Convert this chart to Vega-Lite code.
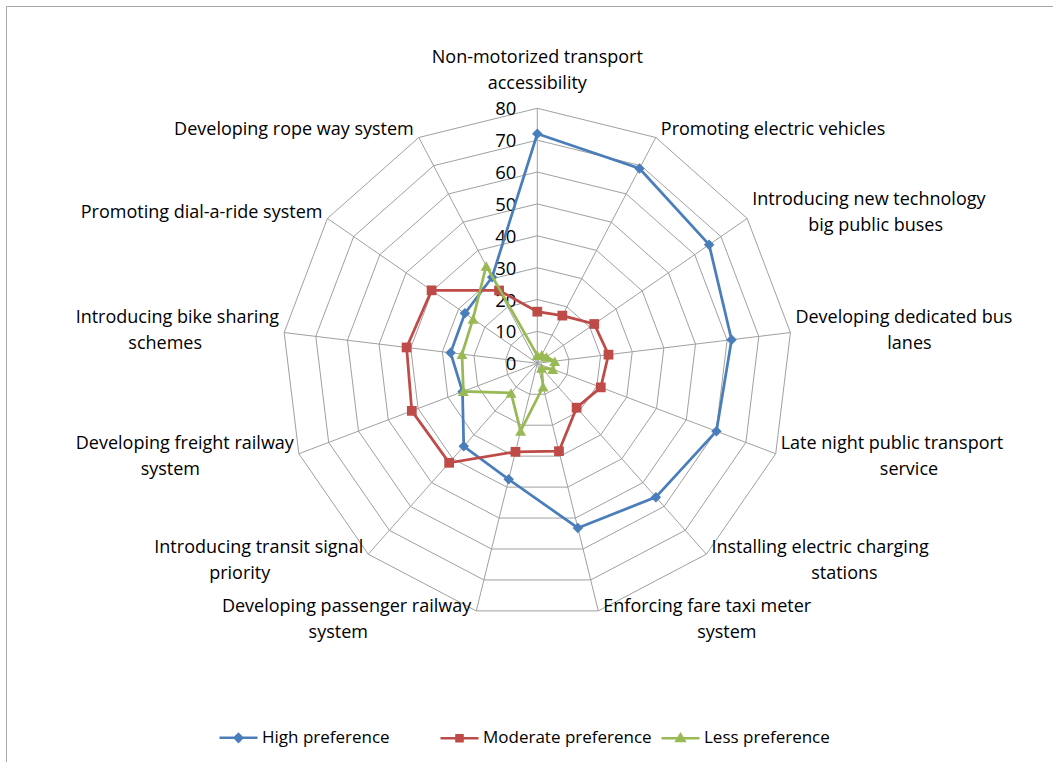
{
  "$schema": "https://vega.github.io/schema/vega-lite/v6.json",
  "width": 1047,
  "height": 756,
  "autosize": "none",
  "padding": {"left": 6, "top": 6, "right": 0, "bottom": 0},
  "config": {
    "view": {"stroke": "#A6A6A6", "strokeWidth": 1},
    "font": "Open Sans",
    "text": {"font": "Open Sans", "fontSize": 18, "color": "#000000"}
  },
  "datasets": {
    "cats": [
      {"idx": 0, "l1": "Non-motorized transport", "l2": "accessibility", "High preference": 72, "Moderate preference": 16.2, "Less preference": 2.5},
      {"idx": 1, "l1": "Promoting electric vehicles", "l2": null, "High preference": 69, "Moderate preference": 16.9, "Less preference": 3},
      {"idx": 2, "l1": "Introducing new technology", "l2": "big public buses", "High preference": 65.5, "Moderate preference": 21.7, "Less preference": 3.5},
      {"idx": 3, "l1": "Developing dedicated bus", "l2": "lanes", "High preference": 61.4, "Moderate preference": 22.5, "Less preference": 5.5},
      {"idx": 4, "l1": "Late night public transport", "l2": "service", "High preference": 60.1, "Moderate preference": 21.3, "Less preference": 5.2},
      {"idx": 5, "l1": "Installing electric charging", "l2": "stations", "High preference": 56.1, "Moderate preference": 18.6, "Less preference": 2},
      {"idx": 6, "l1": "Enforcing  fare taxi meter", "l2": "system", "High preference": 53.2, "Moderate preference": 28.4, "Less preference": 7.6},
      {"idx": 7, "l1": "Developing passenger railway", "l2": "system", "High preference": 37.5, "Moderate preference": 28.6, "Less preference": 21.9},
      {"idx": 8, "l1": "Introducing transit signal", "l2": "priority", "High preference": 34.8, "Moderate preference": 41.7, "Less preference": 12.4},
      {"idx": 9, "l1": "Developing freight railway", "l2": "system", "High preference": 25.1, "Moderate preference": 42.1, "Less preference": 24.8},
      {"idx": 10, "l1": "Introducing bike sharing", "l2": "schemes", "High preference": 27.4, "Moderate preference": 41.3, "Less preference": 23.8},
      {"idx": 11, "l1": "Promoting dial-a-ride system", "l2": null, "High preference": 27.6, "Moderate preference": 40.3, "Less preference": 24.5},
      {"idx": 12, "l1": "Developing rope way system", "l2": null, "High preference": 30.5, "Moderate preference": 25.8, "Less preference": 34.5}
    ],
    "rings": [
      {"level": 10, "idx": [0,1,2,3,4,5,6,7,8,9,10,11,12]},
      {"level": 20, "idx": [0,1,2,3,4,5,6,7,8,9,10,11,12]},
      {"level": 30, "idx": [0,1,2,3,4,5,6,7,8,9,10,11,12]},
      {"level": 40, "idx": [0,1,2,3,4,5,6,7,8,9,10,11,12]},
      {"level": 50, "idx": [0,1,2,3,4,5,6,7,8,9,10,11,12]},
      {"level": 60, "idx": [0,1,2,3,4,5,6,7,8,9,10,11,12]},
      {"level": 70, "idx": [0,1,2,3,4,5,6,7,8,9,10,11,12]},
      {"level": 80, "idx": [0,1,2,3,4,5,6,7,8,9,10,11,12]}
    ],
    "ticks": [{"t": 0}, {"t": 10}, {"t": 20}, {"t": 30}, {"t": 40}, {"t": 50}, {"t": 60}, {"t": 70}, {"t": 80}]
  },
  "layer": [
    {
      "data": {"name": "rings"},
      "transform": [
        {"flatten": ["idx"]},
        {"calculate": "datum.idx*2*PI/13", "as": "a"},
        {"calculate": "datum.level*sin(datum.a)", "as": "x"},
        {"calculate": "datum.level*cos(datum.a)", "as": "y"}
      ],
      "mark": {"type": "line", "interpolate": "linear-closed", "color": "#A0A0A0", "strokeWidth": 1},
      "encoding": {
        "x": {"field": "x", "type": "quantitative", "scale": {"domain": [-166.68, 161.79], "nice": false, "zero": false}, "axis": null},
        "y": {"field": "y", "type": "quantitative", "scale": {"domain": [-125.08, 112.09], "nice": false, "zero": false}, "axis": null},
        "detail": {"field": "level", "type": "nominal"},
        "order": {"field": "idx", "type": "quantitative"}
      }
    },
    {
      "data": {"name": "cats"},
      "transform": [
        {"calculate": "datum.idx*2*PI/13", "as": "a"},
        {"calculate": "80*sin(datum.a)", "as": "vx"},
        {"calculate": "80*cos(datum.a)", "as": "vy"},
        {"calculate": "0", "as": "cx"}
      ],
      "mark": {"type": "rule", "color": "#A0A0A0", "strokeWidth": 1},
      "encoding": {
        "x": {"field": "cx", "type": "quantitative"},
        "y": {"field": "cx", "type": "quantitative"},
        "x2": {"field": "vx"},
        "y2": {"field": "vy"}
      }
    },
    {
      "data": {"name": "ticks"},
      "transform": [{"calculate": "0", "as": "cx"}],
      "mark": {"type": "text", "align": "right", "baseline": "middle", "dx": -21, "dy": 1, "fontSize": 18.5, "font": "Open Sans", "color": "#000000"},
      "encoding": {
        "x": {"field": "cx", "type": "quantitative"},
        "y": {"field": "t", "type": "quantitative"},
        "text": {"field": "t", "type": "quantitative"}
      }
    },
    {
      "data": {"name": "cats"},
      "transform": [
        {"fold": ["High preference"], "as": ["series", "value"]},
        {"calculate": "datum.idx*2*PI/13", "as": "a"},
        {"calculate": "datum.value*sin(datum.a)", "as": "x"},
        {"calculate": "datum.value*cos(datum.a)", "as": "y"}
      ],
      "layer": [
        {"mark": {"type": "line", "interpolate": "linear-closed", "strokeWidth": 2.75, "color": "#4A7EBB"}},
        {"mark": {"type": "point", "shape": "diamond", "filled": true, "opacity": 1, "size": 110, "color": "#4A7EBB"}}
      ],
      "encoding": {
        "x": {"field": "x", "type": "quantitative"},
        "y": {"field": "y", "type": "quantitative"},
        "order": {"field": "idx", "type": "quantitative"}
      }
    },
    {
      "data": {"name": "cats"},
      "transform": [
        {"fold": ["Moderate preference"], "as": ["series", "value"]},
        {"calculate": "datum.idx*2*PI/13", "as": "a"},
        {"calculate": "datum.value*sin(datum.a)", "as": "x"},
        {"calculate": "datum.value*cos(datum.a)", "as": "y"}
      ],
      "layer": [
        {"mark": {"type": "line", "interpolate": "linear-closed", "strokeWidth": 2.75, "color": "#BE4B48"}},
        {"mark": {"type": "point", "shape": "square", "filled": true, "opacity": 1, "size": 95, "color": "#BE4B48"}}
      ],
      "encoding": {
        "x": {"field": "x", "type": "quantitative"},
        "y": {"field": "y", "type": "quantitative"},
        "order": {"field": "idx", "type": "quantitative"}
      }
    },
    {
      "data": {"name": "cats"},
      "transform": [
        {"fold": ["Less preference"], "as": ["series", "value"]},
        {"calculate": "datum.idx*2*PI/13", "as": "a"},
        {"calculate": "datum.value*sin(datum.a)", "as": "x"},
        {"calculate": "datum.value*cos(datum.a)", "as": "y"}
      ],
      "layer": [
        {"mark": {"type": "line", "interpolate": "linear-closed", "strokeWidth": 2.75, "color": "#98B954"}},
        {"mark": {"type": "point", "shape": "triangle-up", "filled": true, "opacity": 1, "size": 120, "color": "#98B954"}}
      ],
      "encoding": {
        "x": {"field": "x", "type": "quantitative"},
        "y": {"field": "y", "type": "quantitative"},
        "order": {"field": "idx", "type": "quantitative"}
      }
    },
    {
      "data": {"name": "cats"},
      "transform": [
        {"fold": ["High preference", "Moderate preference", "Less preference"], "as": ["series", "value"]},
        {"calculate": "datum.idx*2*PI/13", "as": "a"},
        {"calculate": "datum.value*sin(datum.a)", "as": "x"},
        {"calculate": "datum.value*cos(datum.a)", "as": "y"}
      ],
      "mark": {"type": "point", "filled": false, "opacity": 0, "size": 1444, "strokeWidth": 2.5},
      "encoding": {
        "x": {"field": "x", "type": "quantitative"},
        "y": {"field": "y", "type": "quantitative"},
        "color": {
          "field": "series", "type": "nominal",
          "scale": {"domain": ["High preference", "Moderate preference", "Less preference"], "range": ["#4A7EBB", "#BE4B48", "#98B954"]},
          "legend": {
            "title": null, "orient": "none", "legendX": 212, "legendY": 711, "direction": "horizontal", "columns": 3,
            "symbolSize": 1444, "symbolStrokeWidth": 2.5, "symbolOpacity": 1,
            "labelFont": "Open Sans", "labelFontSize": 17, "labelColor": "#000000", "labelOffset": 3, "labelLimit": 400,
            "columnPadding": 4, "gridAlign": "all", "padding": 0
          }
        },
        "shape": {
          "field": "series", "type": "nominal",
          "scale": {"domain": ["High preference", "Moderate preference", "Less preference"], "range": ["M-1,0L1,0M0,-0.2L0.2,0L0,0.2L-0.2,0ZM0,-0.08L0.08,0L0,0.08L-0.08,0Z", "M-1,0L1,0M-0.16,-0.16L0.16,-0.16L0.16,0.16L-0.16,0.16ZM-0.05,-0.05L0.05,-0.05L0.05,0.05L-0.05,0.05Z", "M-1,0L1,0M0,-0.2L0.21,0.15L-0.21,0.15ZM0,-0.05L0.07,0.08L-0.07,0.08Z"]},
          "legend": {
            "title": null, "orient": "none", "legendX": 212, "legendY": 711, "direction": "horizontal", "columns": 3,
            "symbolSize": 1444, "symbolStrokeWidth": 2.5, "symbolOpacity": 1,
            "labelFont": "Open Sans", "labelFontSize": 17, "labelColor": "#000000", "labelOffset": 3, "labelLimit": 400,
            "columnPadding": 4, "gridAlign": "all", "padding": 0
          }
        }
      }
    },
    {
      "data": {"name": "cats"},
      "transform": [
        {"calculate": "datum.idx*2*PI/13", "as": "a"},
        {"calculate": "datum.idx==0 ? 0 : (sin(datum.a) > 0 ? 1 : -1)", "as": "side"},
        {"calculate": "datum.idx==0 ? 0 : 80*sin(datum.a) + datum.side*5/3.1875", "as": "xe"},
        {"calculate": "datum.idx==0 ? 80 + 50.3/3.1875 : 80*cos(datum.a) + 9*cos(datum.a)/3.1875 + (isValid(datum.l2) ? 13/3.1875 : 0)", "as": "y1"},
        {"filter": "datum.side > 0"}
      ],
      "mark": {"type": "text", "align": "left", "baseline": "middle", "fontSize": 18, "font": "Open Sans"},
      "encoding": {
        "x": {"field": "xe", "type": "quantitative"},
        "y": {"field": "y1", "type": "quantitative"},
        "text": {"field": "l1", "type": "nominal"}
      }
    },
    {
      "data": {"name": "cats"},
      "transform": [
        {"calculate": "datum.idx*2*PI/13", "as": "a"},
        {"calculate": "datum.idx==0 ? 0 : (sin(datum.a) > 0 ? 1 : -1)", "as": "side"},
        {"calculate": "datum.idx==0 ? 0 : 80*sin(datum.a) + datum.side*5/3.1875", "as": "xe"},
        {"calculate": "datum.idx==0 ? 80 + 50.3/3.1875 : 80*cos(datum.a) + 9*cos(datum.a)/3.1875 + (isValid(datum.l2) ? 13/3.1875 : 0)", "as": "y1"},
        {"filter": "datum.side < 0"}
      ],
      "mark": {"type": "text", "align": "right", "baseline": "middle", "fontSize": 18, "font": "Open Sans"},
      "encoding": {
        "x": {"field": "xe", "type": "quantitative"},
        "y": {"field": "y1", "type": "quantitative"},
        "text": {"field": "l1", "type": "nominal"}
      }
    },
    {
      "data": {"name": "cats"},
      "transform": [
        {"calculate": "datum.idx*2*PI/13", "as": "a"},
        {"calculate": "datum.idx==0 ? 0 : (sin(datum.a) > 0 ? 1 : -1)", "as": "side"},
        {"calculate": "datum.idx==0 ? 80 + 50.3/3.1875 : 80*cos(datum.a) + 9*cos(datum.a)/3.1875 + (isValid(datum.l2) ? 13/3.1875 : 0)", "as": "y1"},
        {"filter": "datum.side == 0"},
        {"calculate": "0", "as": "xc"}
      ],
      "mark": {"type": "text", "align": "center", "baseline": "middle", "fontSize": 18, "font": "Open Sans"},
      "encoding": {
        "x": {"field": "xc", "type": "quantitative"},
        "y": {"field": "y1", "type": "quantitative"},
        "text": {"field": "l1", "type": "nominal"}
      }
    },
    {
      "data": {"name": "cats"},
      "transform": [
        {"filter": "isValid(datum.l2)"},
        {"calculate": "datum.idx*2*PI/13", "as": "a"},
        {"calculate": "datum.idx==0 ? 0 : (sin(datum.a) > 0 ? 1 : -1)", "as": "side"},
        {"calculate": "datum.idx==0 ? 0 : 80*sin(datum.a) + datum.side*5/3.1875", "as": "xe"},
        {"calculate": "datum.idx==0 ? 80 + 50.3/3.1875 : 80*cos(datum.a) + 9*cos(datum.a)/3.1875 + 13/3.1875", "as": "y1"},
        {"calculate": "datum.y1 - 26/3.1875", "as": "y2"},
        {"calculate": "datum.idx==0 ? 0 : datum.xe + datum.side*length(datum.l1)*9.5/2/3.1875", "as": "x2c"}
      ],
      "mark": {"type": "text", "align": "center", "baseline": "middle", "fontSize": 18, "font": "Open Sans"},
      "encoding": {
        "x": {"field": "x2c", "type": "quantitative"},
        "y": {"field": "y2", "type": "quantitative"},
        "text": {"field": "l2", "type": "nominal"}
      }
    }
  ]
}
